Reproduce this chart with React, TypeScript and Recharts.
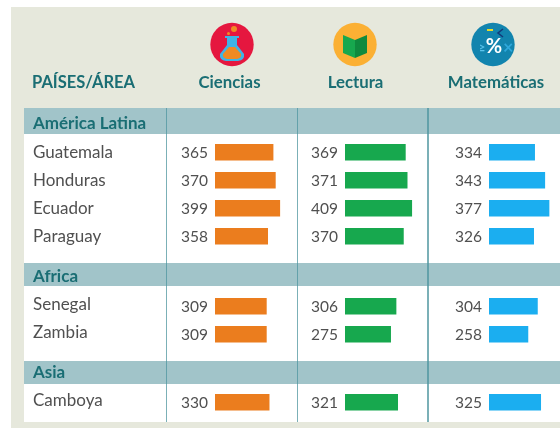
import { BarChart, Bar, XAxis, YAxis, LabelList } from 'recharts'

const groups = ['América Latina', 'Africa', 'Asia']
const groupCounts = [4, 2, 1]
const countries = ['Guatemala', 'Honduras', 'Ecuador', 'Paraguay', 'Senegal', 'Zambia', 'Camboya']

// printed scores
const cienciasScores = [365, 370, 399, 358, 309, 309, 330]
const lecturaScores = [369, 371, 409, 370, 306, 275, 321]
const matematicasScores = [334, 343, 377, 326, 304, 258, 325]

// bar lengths as drawn, in score units; the source bars don't follow the printed scores exactly
const cienciasBars = [357, 371, 398, 324, 316, 316, 333]
const lecturaBars = [371, 382, 410, 359, 314, 281, 324]
const matematicasBars = [281, 343, 369, 275, 298, 240, 318]

const subjects = [
  { name: 'Ciencias', scores: cienciasScores, bars: cienciasBars, color: '#EB7D1E', barLeft: 215.3 },
  { name: 'Lectura', scores: lecturaScores, bars: lecturaBars, color: '#17A84E', barLeft: 345.3 },
  { name: 'Matemáticas', scores: matematicasScores, bars: matematicasBars, color: '#1BAEF0', barLeft: 489 },
]

const MAX_VALUE = 489
const PLOT_W = 80
const LABEL_W = 45
const ROW_H = 28
const rowTops = [138.3, 292, 387.5]
const nameShift = [0, -2, -2]
const bandTops = [108, 263.3, 360.7]
const bandHeights = [25.5, 23, 23]
const bandTextY = [123, 276, 372]
const lineXs = [165.5, 296.5, 427]

const TEAL = '#1A6E74'
const GREY = '#505050'
const FONT = 'Lato, sans-serif'

function GroupBars({ groupIndex, subject }: { groupIndex: number; subject: (typeof subjects)[number] }) {
  const start = groupCounts.slice(0, groupIndex).reduce((a, b) => a + b, 0)
  const n = groupCounts[groupIndex]
  const data = countries.slice(start, start + n).map((c, i) => ({
    country: c,
    score: subject.scores[start + i],
    bar: subject.bars[start + i],
  }))
  return (
    <div style={{ position: 'absolute', left: subject.barLeft - LABEL_W, top: rowTops[groupIndex] }}>
      <BarChart
        width={LABEL_W + PLOT_W}
        height={n * ROW_H}
        data={data}
        layout="vertical"
        margin={{ top: 0, right: 0, bottom: 0, left: LABEL_W }}
      >
        <XAxis type="number" domain={[0, MAX_VALUE]} hide />
        <YAxis type="category" dataKey="country" hide />
        <Bar dataKey="bar" fill={subject.color} barSize={16.5} isAnimationActive={false}>
          <LabelList
            dataKey="score"
            position="left"
            offset={7}
            style={{ fontFamily: FONT, fontSize: 15.5, fill: GREY }}
          />
        </Bar>
      </BarChart>
    </div>
  )
}

function Text({ x, cy, children, size = 17, color = GREY, bold = false, center = false }: any) {
  return (
    <div
      style={{
        position: 'absolute',
        left: center ? x - 80 : x,
        width: center ? 160 : undefined,
        textAlign: center ? 'center' : 'left',
        top: cy - 12,
        height: 24,
        lineHeight: '24px',
        fontFamily: FONT,
        fontSize: size,
        fontWeight: bold ? 700 : 400,
        color,
        whiteSpace: 'nowrap',
      }}
    >
      {children}
    </div>
  )
}

function Icons() {
  return (
    <svg width={560} height={108} style={{ position: 'absolute', left: 0, top: 0 }}>
      {/* ciencias */}
      <circle cx={232} cy={44.5} r={21.7} fill="#E5173F" />
      <circle cx={234} cy={29} r={3} fill="#F08A24" />
      <circle cx={228.5} cy={33.5} r={1.5} fill="#F08A24" />
      <path d="M225 36 h14 v2 h-2 v7 l7 9 q1 6 -6 7 h-12 q-7 -1 -6 -7 l7 -9 v-7 h-2 z" fill="#3FB4E6" />
      <path d="M229 47 h6 l6 7 q1 4 -4 5 h-10 q-5 -1 -4 -5 z" fill="#F08A24" />
      {/* lectura */}
      <circle cx={355} cy={44.5} r={21.7} fill="#FBB034" />
      <path d="M343 35 l12 5 v18 l-12 -5 z" fill="#17A84E" />
      <path d="M355 40 l12 -5 v18 l-12 5 z" fill="#0F8A3E" />
      {/* matematicas */}
      <circle cx={493} cy={44.5} r={21.7} fill="#1284AE" />
      <text x={494} y={53} textAnchor="middle" fontFamily={FONT} fontSize={20} fontWeight={700} fill="#FFFFFF">%</text>
      <path d="M487 30 h6" stroke="#E6DC2A" strokeWidth={2} />
      <path d="M503 29 l-5 4 l5 4" stroke="#123A7A" strokeWidth={1.6} fill="none" />
      <text x={479} y={52} fontFamily={FONT} fontSize={11} fontWeight={700} fill="#5CC4EC">≥</text>
      <text x={503} y={54} fontFamily={FONT} fontSize={18} fontWeight={700} fill="#2FA8DC">×</text>
    </svg>
  )
}

export default function App() {
  let cursor = 0
  return (
    <div style={{ position: 'absolute', left: 0, top: 0, width: 560, height: 428, overflow: 'hidden', background: '#fff', filter: 'blur(0.35px)' }}>
      <div style={{ position: 'absolute', left: 11, top: 7, width: 549, height: 421, background: '#E6E8DC' }} />
      <div style={{ position: 'absolute', left: 23.5, top: 108, width: 537, height: 313.5, background: '#fff' }} />
      <Icons />
      <Text x={32} cy={82} size={16.5} color={TEAL} bold>PAÍSES/ÁREA</Text>
      {subjects.map((s, i) => (
        <Text key={s.name} x={[229.5, 355.5, 496][i]} cy={82} size={16.8} color={TEAL} bold center>{s.name}</Text>
      ))}
      {groups.map((g, i) => (
        <div key={g}>
          <div style={{ position: 'absolute', left: 23.5, top: bandTops[i], width: 537, height: bandHeights[i], background: '#A1C4C9' }} />
          <Text x={33} cy={bandTextY[i]} size={17} color={TEAL} bold>{g}</Text>
        </div>
      ))}
      {lineXs.map((x) => (
        <div key={x} style={{ position: 'absolute', left: x, top: 108, width: 1.6, height: 313.5, background: '#4F969F', opacity: 0.75 }} />
      ))}
      {groups.map((g, gi) => {
        const start = cursor
        cursor += groupCounts[gi]
        return countries.slice(start, cursor).map((c, i) => (
          <Text key={c} x={33} cy={rowTops[gi] + ROW_H * i + ROW_H / 2 + nameShift[gi]}>{c}</Text>
        ))
      })}
      {subjects.map((s) =>
        groups.map((g, gi) => <GroupBars key={s.name + g} groupIndex={gi} subject={s} />)
      )}
    </div>
  )
}
